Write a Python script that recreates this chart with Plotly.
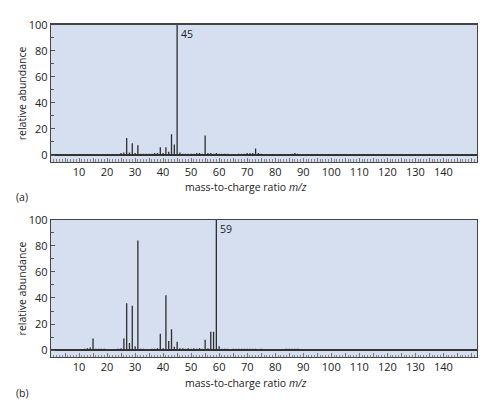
import plotly.graph_objects as go

# ---- data ----
mz_a = [25, 26, 27, 28, 29, 30, 31, 32, 33, 34, 35, 36, 37, 38, 39, 40, 41, 42, 43, 44, 45,
        46, 47, 48, 49, 50, 51, 52, 53, 54, 55, 56, 57, 58, 59, 60, 61, 62, 63,
        67, 68, 69, 70, 71, 72, 73, 74, 75, 86, 87, 88]
ab_a = [1.5, 2, 13, 2, 9, 1.5, 7.5, 1, 1, 1, 1, 1, 1.5, 1.5, 6, 1.5, 6, 2.5, 16, 8, 100,
        2, 1, 1, 1, 1, 1, 1.5, 1.5, 1, 15, 1.5, 1.5, 1, 1.5, 1, 1, 1, 1,
        1, 1, 1, 1.5, 1.5, 1.5, 5, 1.5, 1, 1, 1.5, 1]

mz_b = [12, 13, 14, 15, 16, 17, 18, 19, 24, 25, 26, 27, 28, 29, 30, 31, 32, 33, 36, 37, 38,
        39, 40, 41, 42, 43, 44, 45, 46, 47, 48, 49, 50, 51, 52, 53, 54, 55, 56, 57, 58, 59,
        60, 61, 62, 63, 65, 66, 67, 68, 69, 70, 71, 72, 73, 75, 84, 85, 86, 87, 88]
ab_b = [1, 1.5, 2, 9, 1, 1, 1, 1, 1, 1.5, 9, 36, 5.5, 34, 3, 84, 1, 1, 1, 1, 1.5,
        12.5, 1.5, 42, 7, 16, 2.5, 6.5, 1.5, 1.5, 1, 1.5, 1, 1.5, 1, 1.5, 1, 8, 1.5, 14, 14, 100,
        3, 1, 1, 1, 1, 1, 1, 1, 1, 1, 1, 1, 1, 1, 1, 1, 1, 1, 1]

base_peak_a = 45
base_peak_b = 59

x_tickvals = list(range(0, 151, 5))
x_ticktext = [str(v) if (v % 10 == 0 and 10 <= v <= 140) else "" for v in x_tickvals]
y_tickvals = [0, 20, 40, 60, 80, 100]

W, H = 495, 408
BG = "#d5dff0"
INK = "#2e2e2e"
FONT = "Open Sans"


def stems(xs, ys):
    sx, sy = [], []
    for x, y in zip(xs, ys):
        sx += [x, x, None]
        sy += [0, y, None]
    return sx, sy


fig = go.Figure()
sx, sy = stems(mz_a, ab_a)
fig.add_trace(go.Scatter(x=sx, y=sy, mode="lines", line=dict(color=INK, width=1.3),
                         xaxis="x", yaxis="y", hoverinfo="skip", showlegend=False))
sx, sy = stems(mz_b, ab_b)
fig.add_trace(go.Scatter(x=sx, y=sy, mode="lines", line=dict(color=INK, width=1.3),
                         xaxis="x2", yaxis="y2", hoverinfo="skip", showlegend=False))

xdom = [51 / W, 477 / W]
ydom_a = [1 - 157 / H, 1 - 17 / H]
ydom_b = [1 - 356 / H, 1 - 216 / H]

xcommon = dict(range=[0, 152], domain=xdom, tickmode="array", tickvals=x_tickvals,
               ticktext=x_ticktext, ticks="inside", ticklen=4, tickcolor="#777",
               tickwidth=1,
               minor=dict(dtick=1, tick0=0, ticks="inside", ticklen=2.5, tickcolor="#888",
                          tickwidth=1, showgrid=False),
               showgrid=False, zeroline=False, showline=True, linecolor="#444",
               linewidth=1.2, mirror=True,
               tickfont=dict(family=FONT, size=11, color="#222"), fixedrange=True)
ycommon = dict(range=[-5.3, 100], tickmode="array", tickvals=y_tickvals, ticks="inside",
               ticklen=4, tickcolor="#555",
               minor=dict(dtick=10, tick0=0, ticks="inside", ticklen=3, tickcolor="#555",
                          showgrid=False),
               showgrid=False, zeroline=True, zerolinecolor="#333", zerolinewidth=1.6,
               showline=True, linecolor="#444", linewidth=1.2, mirror=True,
               tickfont=dict(family=FONT, size=11, color="#222"), fixedrange=True)

fig.update_layout(
    width=W, height=H, margin=dict(l=0, r=0, t=0, b=0),
    paper_bgcolor="white", plot_bgcolor=BG,
    xaxis=dict(anchor="y", **xcommon),
    yaxis=dict(anchor="x", domain=ydom_a, **ycommon),
    xaxis2=dict(anchor="y2", **xcommon),
    yaxis2=dict(anchor="x2", domain=ydom_b, **ycommon),
)

tfont = dict(family=FONT, size=10.5, color="#222")
ann = []
for ytitle_px, xt_px, lab_px, lab in [(87, 183, 193, "(a)"), (286, 383, 393, "(b)")]:
    ann.append(dict(xref="paper", yref="paper", x=22 / W, y=1 - ytitle_px / H,
                    text="relative abundance", textangle=-90, showarrow=False,
                    font=tfont, xanchor="center", yanchor="middle"))
    ann.append(dict(xref="paper", yref="paper", x=246 / W, y=1 - xt_px / H,
                    text="mass-to-charge ratio <i>m/z</i>", showarrow=False,
                    font=tfont, xanchor="center", yanchor="middle"))
    ann.append(dict(xref="paper", yref="paper", x=14 / W, y=1 - lab_px / H,
                    text=lab, showarrow=False, font=tfont,
                    xanchor="left", yanchor="middle"))
ann.append(dict(xref="x", yref="y", x=base_peak_a, y=93, text=str(base_peak_a),
                showarrow=False, xanchor="left", xshift=2,
                font=dict(family=FONT, size=10.5, color="#222")))
ann.append(dict(xref="x2", yref="y2", x=base_peak_b, y=93, text=str(base_peak_b),
                showarrow=False, xanchor="left", xshift=2,
                font=dict(family=FONT, size=10.5, color="#222")))
fig.update_layout(annotations=ann)

fig.write_html("out.html", config={"displayModeBar": False, "staticPlot": True},
               post_script="document.body.style.margin='0';document.body.style.overflow='hidden';")
